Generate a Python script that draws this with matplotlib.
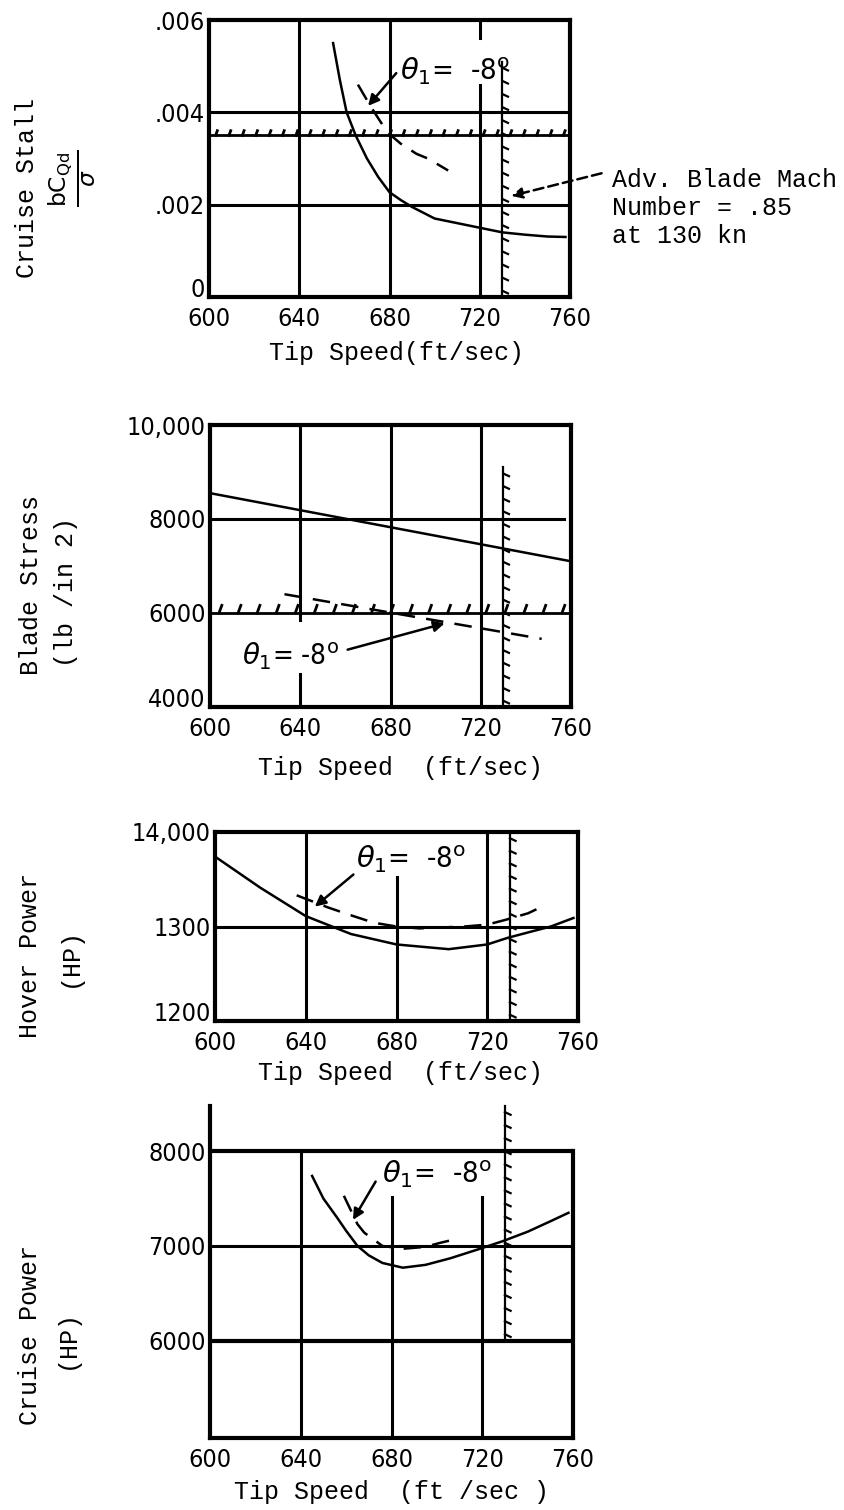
import numpy as np
import matplotlib
matplotlib.use("Agg")
import matplotlib.pyplot as plt
from matplotlib import patheffects

# ---- values ----
x_ticks = [600, 640, 680, 720, 760]
mach_limit = 730          # adv. blade Mach number = .85 at 130 kn

# panel 1 : cruise stall
stall_ticks = [0, .002, .004, .006]
stall_labels = ["0", ".002", ".004", ".006"]
stall_x = [655, 658, 661, 665, 670, 675, 680, 685, 690, 700, 710, 720, 730, 740, 750, 758]
stall_y = [.0055, .0047, .0040, .0035, .0030, .0026, .00227, .0021, .00195, .0017, .0016, .0015, .0014, .00135, .00131, .0013]
stall_dx = [666, 672, 679, 685, 692, 697, 706]
stall_dy = [.0046, .0041, .00357, .00332, .0031, .0030, .00274]
stall_limit = .0035

# panel 2 : blade stress
stress_ticks = [4000, 6000, 8000, 10000]
stress_labels = ["4000", "6000", "8000", "10,000"]
stress_x = [600, 760]
stress_y = [8550, 7100]
stress_dx = [633, 747]
stress_dy = [6400, 5450]
stress_limit = 6000

# panel 3 : hover power
hover_ticks = [1200, 1300, 1400]
hover_labels = ["1200", "1300", "14,000"]
hover_x = [600, 620, 640, 660, 680, 703, 720, 729, 740, 748, 758]
hover_y = [1374, 1341, 1311, 1292, 1281, 1276, 1281, 1288, 1295, 1300, 1309]
hover_dx = [636, 650, 661, 670, 680, 690, 700, 710, 720, 728, 738, 745]
hover_dy = [1333, 1320, 1311, 1304, 1300, 1298, 1299, 1300, 1302, 1307, 1314, 1322]

# panel 4 : cruise power
cruise_ticks = [6000, 7000, 8000]
cruise_labels = ["6000", "7000", "8000"]
cruise_x = [645, 650, 656, 660, 665, 670, 676, 685, 695, 706, 719, 729, 740, 750, 758]
cruise_y = [7740, 7500, 7300, 7160, 7000, 6900, 6820, 6770, 6800, 6870, 6970, 7050, 7150, 7260, 7350]
cruise_dx = [659, 665, 668, 676, 685, 695, 701, 708]
cruise_dy = [7530, 7230, 7140, 7000, 6970, 6990, 7030, 7070]

theta_wide = r"$\theta_1$=  -8$^\mathrm{o}$"
theta_tight = r"$\theta_1$= -8$^\mathrm{o}$"

plt.rcParams['mathtext.fontset'] = 'dejavusans'
cond = ['DejaVu Sans']
mono = ['Liberation Mono', 'DejaVu Sans Mono']

W, H = 845, 1510
fig = plt.figure(figsize=(W / 100, H / 100), dpi=100)


def px(x, y):
    return x / W, 1 - y / H


def make_axes(left, top, right, bottom, ylim, ticks, labels):
    ax = fig.add_axes([left / W, 1 - bottom / H, (right - left) / W, (bottom - top) / H])
    ax.set_xlim(600, 760)
    ax.set_ylim(*ylim)
    ax.set_xticks(x_ticks)
    ax.set_xticklabels([str(t) for t in x_ticks], family=cond, fontstretch='condensed', fontsize=18)
    ax.set_yticks(ticks)
    ax.set_yticklabels(labels, family=cond, fontstretch='condensed', fontsize=18)
    ax.tick_params(length=0)
    ax.tick_params(axis='x', pad=7)
    ax.tick_params(axis='y', pad=3)
    # lowest y label sits a little above the frame, as on the original
    ax.get_yticklabels()[0].set_va('baseline')
    for s in ax.spines.values():
        s.set_linewidth(3)
    return ax


def hatched_h(ax, y, spacing, length):
    ax.plot([600, 760], [y, y], color='black', lw=2,
            path_effects=[patheffects.withTickedStroke(angle=70, spacing=spacing, length=length)])


def hatched_v(ax, y0, y1):
    ax.plot([mach_limit, mach_limit], [y0, y1], color='black', lw=1.6, clip_on=False,
            path_effects=[patheffects.withTickedStroke(angle=-115, spacing=9, length=0.5)])


def curves(ax, x, y, dx, dy):
    ax.plot(x, y, color='black', lw=1.8)
    ax.plot(dx, dy, color='black', lw=1.8, linestyle=(0, (7, 4.5)))


def theta(ax, txt, size, tx, ty, ax_, ay_, fx, fy):
    ax.text(tx, ty, txt, fontsize=size, family=cond, fontstretch='condensed', va='baseline')
    ax.annotate("", xy=(ax_, ay_), xytext=(fx, fy),
                arrowprops=dict(arrowstyle='-|>', lw=1.8, color='black',
                                mutation_scale=16, shrinkA=0, shrinkB=0))


def grid_v(ax, segs):
    for x, y0, y1 in segs:
        ax.plot([x, x], [y0, y1], color='black', lw=2.2)


def grid_h(ax, ys, x1=760):
    for y in ys:
        ax.plot([600, x1], [y, y], color='black', lw=2.2)


def side_labels(x1, y1, t1, x2, y2, t2):
    fig.text(*px(x1, y1), t1, family=mono, fontsize=18, rotation=90, ha='center', va='center')
    fig.text(*px(x2, y2), t2, family=mono, fontsize=18, rotation=90, ha='center', va='center')


# ---------------- panel 1 ----------------
ax1 = make_axes(209, 20, 570, 297, (0, .006), stall_ticks, stall_labels)
grid_v(ax1, [(640, 0, .006), (680, 0, .006), (720, 0, .0046), (720, .0056, .006)])
grid_h(ax1, [.002, .004])
hatched_h(ax1, stall_limit, 9.5, 0.38)
hatched_v(ax1, 0, .0051)
curves(ax1, stall_x, stall_y, stall_dx, stall_dy)
theta(ax1, theta_wide, 21, 684.5, .0047, 670.5, .00414, 683, .00485)
ax1.annotate("", xy=(734, .00219), xytext=(774, .00268),
             arrowprops=dict(arrowstyle='-|>', lw=1.8, color='black', linestyle=(0, (4, 2)),
                             mutation_scale=16, shrinkA=0, shrinkB=0),
             annotation_clip=False)
fig.text(*px(612, 168), "Adv. Blade Mach\nNumber = .85\nat 130 kn", family=mono,
         fontsize=18, va='top', ha='left', linespacing=1.2)
fig.text(*px(397, 353), "Tip Speed(ft/sec)", family=mono, fontsize=18, ha='center', va='center')
fig.text(*px(27, 188), "Cruise Stall", family=mono, fontsize=18, rotation=90, ha='center', va='center')
fig.text(*px(72, 178), r"$\frac{\mathrm{bC_{Qd}}}{\sigma}$", fontsize=24, rotation=90,
         ha='center', va='center')

# ---------------- panel 2 ----------------
ax2 = make_axes(210, 425, 571, 707, (4000, 10000), stress_ticks, stress_labels)
grid_v(ax2, [(640, 4000, 4700), (640, 5850, 10000), (680, 4000, 10000), (720, 4000, 10000)])
grid_h(ax2, [8000], x1=757)
hatched_h(ax2, stress_limit, 13, 0.45)
hatched_v(ax2, 4000, 9100)
curves(ax2, stress_x, stress_y, stress_dx, stress_dy)
theta(ax2, theta_tight, 20, 614, 4900, 704, 5780, 661, 5220)
fig.text(*px(401, 768), "Tip Speed  (ft/sec)", family=mono, fontsize=18, ha='center', va='center')
side_labels(31, 585, "Blade Stress", 66, 592, "(lb /in 2)")

# ---------------- panel 3 ----------------
ax3 = make_axes(215, 832, 578, 1021, (1200, 1400), hover_ticks, hover_labels)
grid_v(ax3, [(640, 1200, 1400), (680, 1200, 1352), (720, 1200, 1400)])
grid_h(ax3, [1300])
hatched_v(ax3, 1200, 1400)
curves(ax3, hover_x, hover_y, hover_dx, hover_dy)
theta(ax3, theta_wide, 21, 662, 1362, 644, 1321, 661, 1355)
fig.text(*px(401, 1073), "Tip Speed  (ft/sec)", family=mono, fontsize=18, ha='center', va='center')
side_labels(30, 956, "Hover Power", 70, 957, "(HP)")

# ---------------- panel 4 ----------------
ax4 = make_axes(210, 1104, 573, 1438, (4970, 8500), cruise_ticks, cruise_labels)
ax4.get_yticklabels()[0].set_va('center_baseline')
ax4.spines['top'].set_visible(False)
ax4.spines['left'].set_bounds(4970, 8480)
ax4.spines['right'].set_bounds(4970, 8000)
ax4.plot([600, 760], [8000, 8000], color='black', lw=3)
ax4.plot([600, 760], [6000, 6000], color='black', lw=3)
grid_v(ax4, [(640, 4970, 8000), (680, 4970, 7520), (720, 4970, 7520)])
grid_h(ax4, [7000])
hatched_v(ax4, 6000, 8480)
curves(ax4, cruise_x, cruise_y, cruise_dx, cruise_dy)
theta(ax4, theta_wide, 21, 676, 7665, 663, 7275, 673, 7680)
fig.text(*px(392, 1492), "Tip Speed  (ft /sec )", family=mono, fontsize=18, ha='center', va='center')
side_labels(30, 1335, "Cruise Power", 67, 1339, "(HP)")

fig.savefig("out.png", dpi=100, facecolor='white')
